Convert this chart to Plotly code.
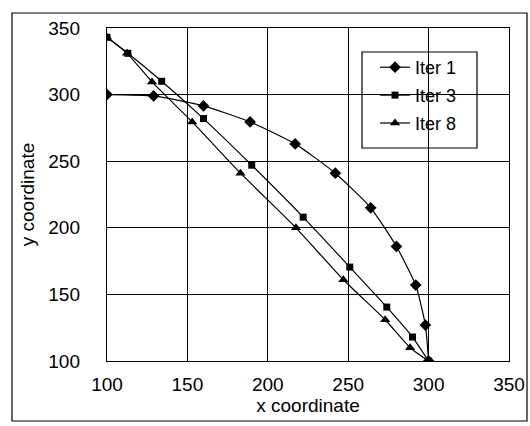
import plotly.graph_objects as go

# Data
iter1_x = [100, 129, 160, 189, 217, 242, 264, 280, 292, 298, 300]
iter1_y = [300, 299, 291.5, 279.5, 263, 241, 215, 186, 157, 127, 100]

iter3_x = [100, 113, 134, 160, 190, 222, 251, 274, 290, 300]
iter3_y = [343, 331, 310, 282, 247, 208, 170.5, 140.5, 118, 100]

iter8_x = [100, 112.5, 128, 153, 183, 217.5, 247, 273, 288.5, 300]
iter8_y = [343, 331, 309.5, 279.5, 241, 200, 161, 131, 110, 100]

series_names = ["Iter 1", "Iter 3", "Iter 8"]
x_ticks = [100, 150, 200, 250, 300, 350]
y_ticks = [100, 150, 200, 250, 300, 350]

W, H = 530, 426
# target plot area in window pixels: x 107..509, y 28..361
L, T = 107, 28
R, B = W - 509, H - 361
PW, PH = W - L - R, H - T - B

def px2paper_x(px):
    return (px - L) / PW

def px2paper_y(py):
    return (H - B - py) / PH

fig = go.Figure()
symbols = ["diamond", "square", "triangle-up"]
sizes = [9, 7, 9]
for name, xs, ys, sym, sz in zip(series_names, [iter1_x, iter3_x, iter8_x],
                                 [iter1_y, iter3_y, iter8_y], symbols, sizes):
    fig.add_trace(go.Scatter(
        x=xs, y=ys, name=name, mode="lines+markers",
        line=dict(color="black", width=1.2, shape="spline", smoothing=0.5),
        marker=dict(symbol=sym, size=sz, color="black"),
        legendgroup=name,
    ))

font_family = "Liberation Sans, Arial, sans-serif"
axis_common = dict(
    showgrid=True, gridcolor="black", gridwidth=1.4,
    showline=True, linecolor="black", linewidth=1.4, mirror=True,
    zeroline=False, ticks="", tickfont=dict(size=19, color="black", family=font_family),
    dtick=50, automargin=False,
)

fig.update_layout(
    width=W, height=H,
    margin=dict(l=L, r=R, t=T, b=B, autoexpand=False),
    paper_bgcolor="white", plot_bgcolor="white",
    font=dict(family=font_family, color="black", size=18),
    xaxis=dict(range=[100, 350], tickvals=x_ticks, ticklabelstandoff=6,
               title=dict(text="x coordinate", font=dict(size=19), standoff=0),
               **axis_common),
    yaxis=dict(range=[100, 350], tickvals=y_ticks, ticklabelstandoff=22,
               title=dict(text="y coordinate", font=dict(size=19), standoff=8),
               **axis_common),
    legend=dict(
        x=px2paper_x(375), y=px2paper_y(49), xanchor="left", yanchor="top",
        bgcolor="rgba(0,0,0,0)", borderwidth=0,
        font=dict(size=18, color="black", family=font_family),
        tracegroupgap=1.5, itemwidth=30,
    ),
    showlegend=True,
)

# legend box
fig.add_shape(type="rect", xref="paper", yref="paper",
              x0=px2paper_x(362), x1=px2paper_x(477),
              y0=px2paper_y(148), y1=px2paper_y(52),
              line=dict(color="black", width=1.2), fillcolor="white", layer="below")
# outer chart border
fig.add_shape(type="rect", xref="paper", yref="paper",
              x0=px2paper_x(12), x1=px2paper_x(527),
              y0=px2paper_y(421), y1=px2paper_y(13),
              line=dict(color="black", width=1.2), layer="below")

fig.write_html(
    "out.html",
    config={"displayModeBar": False},
    post_script="document.body.style.margin='0';document.body.style.overflow='hidden';",
)
